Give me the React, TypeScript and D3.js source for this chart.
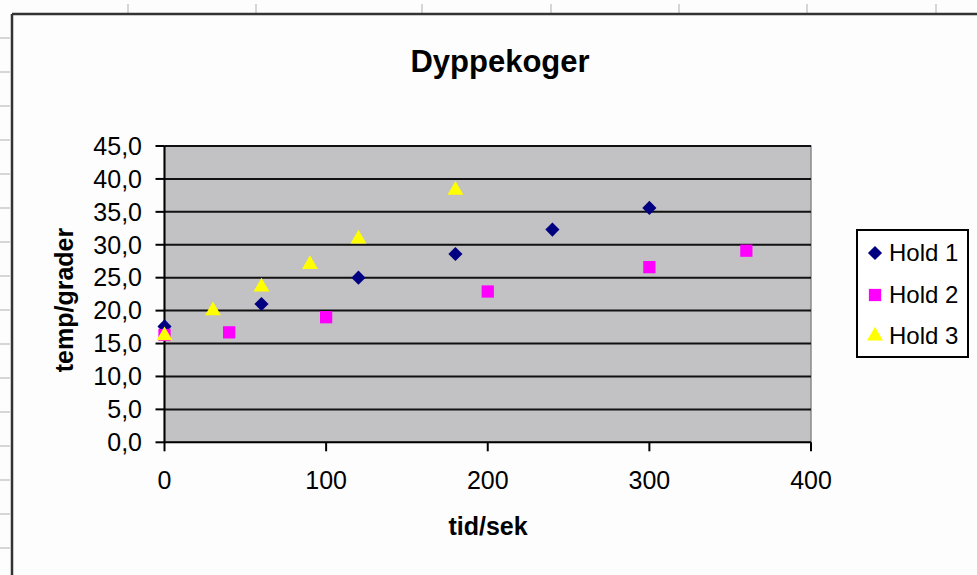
import React from "react";
import * as d3 from "d3";

const title = "Dyppekoger";
const xTitle = "tid/sek";
const yTitle = "temp/grader";
const xTicks = [0, 100, 200, 300, 400];
const yTicks = [0, 5, 10, 15, 20, 25, 30, 35, 40, 45];

const hold1X = [0, 60, 120, 180, 240, 300];
const hold1Y = [17.6, 21.0, 25.0, 28.6, 32.3, 35.6];
const hold2X = [0, 40, 100, 200, 300, 360];
const hold2Y = [16.3, 16.7, 19.0, 22.9, 26.6, 29.1];
const hold3X = [0, 30, 60, 90, 120, 180];
const hold3Y = [16.2, 20.0, 23.6, 27.0, 30.9, 38.3];

const seriesNames = ["Hold 1", "Hold 2", "Hold 3"];
const seriesColors = ["#000080", "#FF00FF", "#FFFF00"];

const squareDiamond = {
  draw(context: any, size: number) {
    const r = Math.sqrt(size / 2);
    context.moveTo(0, -r);
    context.lineTo(r, 0);
    context.lineTo(0, r);
    context.lineTo(-r, 0);
    context.closePath();
  },
};
const seriesShapes: any[] = [squareDiamond, d3.symbolSquare, d3.symbolTriangle];

const W = 977;
const H = 575;
const plot = { left: 164.5, right: 811, top: 146, bottom: 442.3 };

const sheetColTicks = [128, 256, 422, 551, 679, 807, 936];
const sheetRowTicks = d3.range(38, 560, 34);

const font = "'Liberation Sans', Arial, sans-serif";

function marker(shapeIdx: number) {
  const sizes = [100, 150, 110];
  return d3.symbol().type(seriesShapes[shapeIdx]).size(sizes[shapeIdx])() || "";
}

export default function App() {
  const x = d3.scaleLinear().domain([0, 400]).range([plot.left, plot.right]);
  const y = d3.scaleLinear().domain([0, 45]).range([plot.bottom, plot.top]);
  const series = [
    { xs: hold1X, ys: hold1Y },
    { xs: hold2X, ys: hold2Y },
    { xs: hold3X, ys: hold3Y },
  ];
  const fmt = (v: number) => v.toFixed(1).replace(".", ",");
  const legendRows = [253, 295, 336];

  return (
    <svg
      width={W}
      height={H}
      style={{ position: "absolute", left: 0, top: 0, background: "#fff" }}
      fontFamily={font}
    >
      <rect x={0} y={0} width={W} height={H} fill="#fdfdfd" />
      {sheetColTicks.map((cx) => (
        <line key={"c" + cx} x1={cx} x2={cx} y1={4} y2={14} stroke="#c8c8c8" strokeWidth={1.5} />
      ))}
      {sheetRowTicks.map((ry) => (
        <line key={"r" + ry} x1={0} x2={10} y1={ry} y2={ry} stroke="#c8c8c8" strokeWidth={1.5} />
      ))}
      {/* chart border */}
      <line x1={12} x2={W} y1={14} y2={14} stroke="#333" strokeWidth={2.5} />
      <line x1={12} x2={12} y1={14} y2={H} stroke="#333" strokeWidth={2.5} />

      <text x={500} y={72} textAnchor="middle" fontWeight="bold" fontSize={31} fill="#000">
        {title}
      </text>

      {/* plot area */}
      <rect
        x={plot.left}
        y={plot.top}
        width={plot.right - plot.left}
        height={plot.bottom - plot.top}
        fill="#C2C1C4"
        stroke="#8a8a8a"
        strokeWidth={1.5}
      />
      {yTicks.slice(1).map((t) => (
        <line key={"g" + t} x1={plot.left} x2={plot.right} y1={y(t)} y2={y(t)} stroke="#111" strokeWidth={2} />
      ))}
      {/* axes */}
      <line x1={plot.left} x2={plot.left} y1={plot.top} y2={plot.bottom} stroke="#000" strokeWidth={2} />
      <line x1={plot.left} x2={plot.right} y1={plot.bottom} y2={plot.bottom} stroke="#000" strokeWidth={2} />
      {yTicks.map((t) => (
        <g key={"yt" + t}>
          <line x1={plot.left - 9} x2={plot.left} y1={y(t)} y2={y(t)} stroke="#000" strokeWidth={2} />
          <text x={142} y={y(t)} dy="0.35em" textAnchor="end" fontSize={25} fill="#000">
            {fmt(t)}
          </text>
        </g>
      ))}
      {xTicks.map((t) => (
        <g key={"xt" + t}>
          <line x1={x(t)} x2={x(t)} y1={plot.bottom} y2={plot.bottom + 9} stroke="#000" strokeWidth={2} />
          <text x={x(t)} y={489} textAnchor="middle" fontSize={25} fill="#000">
            {t}
          </text>
        </g>
      ))}

      <text x={488} y={535} textAnchor="middle" fontWeight="bold" fontSize={25} fill="#000">
        {xTitle}
      </text>
      <text
        transform={`translate(73,300) rotate(-90)`}
        textAnchor="middle"
        fontWeight="bold"
        fontSize={25}
        fill="#000"
      >
        {yTitle}
      </text>

      {/* data */}
      {series.map((s, si) =>
        s.xs.map((xv, i) => (
          <path
            key={`p${si}-${i}`}
            d={marker(si)}
            transform={`translate(${x(xv)},${y(s.ys[i])})`}
            fill={seriesColors[si]}
          />
        ))
      )}

      {/* legend */}
      <rect x={857} y={230} width={111} height={127} fill="#fff" stroke="#000" strokeWidth={2} />
      {seriesNames.map((n, i) => (
        <g key={n}>
          <path d={marker(i)} transform={`translate(875,${legendRows[i]})`} fill={seriesColors[i]} />
          <text x={889} y={legendRows[i]} dy="0.35em" fontSize={24} fill="#000">
            {n}
          </text>
        </g>
      ))}
    </svg>
  );
}
